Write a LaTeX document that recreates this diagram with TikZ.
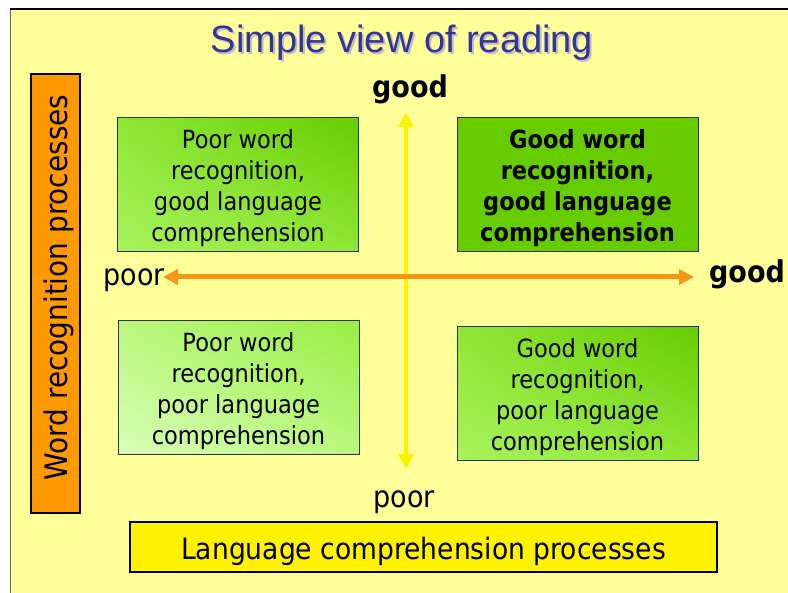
\documentclass[tikz,border=0pt]{standalone}
\usepackage{fontspec}
\setmainfont{DejaVu Sans}[FakeStretch=0.9]
\newfontfamily\titlefont{Liberation Sans}
\usetikzlibrary{arrows.meta,shadings}

\definecolor{slideyellow}{RGB}{255,255,153}
\definecolor{titleblue}{RGB}{51,51,153}
\definecolor{boxorange}{RGB}{255,153,0}
\definecolor{arroworange}{RGB}{245,150,20}
\definecolor{darkgreen}{RGB}{102,204,0}
\definecolor{midgreen}{RGB}{153,238,68}
\definecolor{lightgreen}{RGB}{168,242,92}
\definecolor{palegreen}{RGB}{218,255,184}

\tikzset{
    quad/.style = {draw=black!80, line width=1pt, minimum width=241, minimum height=134,
        inner sep=0pt, align=center, font=\fontsize{25}{31}\selectfont},
    quadtext/.style = {align=center, inner sep=0pt, font=\fontsize{25}{31}\selectfont},
    axislabel/.style = {font=\fontsize{30}{32}\selectfont},
    procbox/.style = {draw=black, line width=2.5pt, inner sep=0pt}
}

\begin{document}
\begin{tikzpicture}[x=1pt, y=-1pt]
    \useasboundingbox (0,0) rectangle (788,593);
    % Slide background
    \fill[slideyellow] (10,9) rectangle (788,593);
    \draw[black!60, line width=1pt] (10,9) -- (10,593);
    \draw[black, line width=2pt] (10,9) -- (788,9);

    % Title with shadow
    \node[text=black!25, font=\titlefont\fontsize{38}{40}\selectfont] at (404,45) {Simple view of reading};
    \node (title) [text=titleblue, font=\titlefont\fontsize{38}{40}\selectfont] at (402,43) {Simple view of reading};

    % Axis ends
    \coordinate (vtop) at (406,112);
    \coordinate (vbot) at (406,469);
    \coordinate (hleft) at (163,277);
    \coordinate (hright) at (694,277);

    % Draw the two axes
    \draw[yellow, line width=4pt, {Triangle[width=15pt,length=15pt]}-{Triangle[width=15pt,length=15pt]}] (vtop) -- (vbot);
    \draw[arroworange, line width=5pt, {Triangle[width=15pt,length=15pt]}-{Triangle[width=15pt,length=15pt]}] (hleft) -- (hright);

    % Axis labels
    \node (goodtop) [axislabel, font=\fontsize{30}{32}\selectfont\bfseries] at (410,89) {good};
    \node (poorbottom) [axislabel] at (404,502) {poor};
    \node (poorleft) [axislabel] at (134,280) {poor};
    \node (goodright) [axislabel, font=\fontsize{30}{32}\selectfont\bfseries] at (747,274) {good};

    % The four quadrants
    \node (pg) [quad, shade, lower left=lightgreen, upper right=darkgreen,
        upper left=midgreen!80!darkgreen, lower right=midgreen!80!darkgreen] at (238,185) {};
    \node[quadtext] at ([yshift=-3]pg.center) {Poor word\\recognition,\\good language\\comprehension};
    \node (gg) [quad, fill=darkgreen] at (577.5,185) {};
    \node[quadtext, font=\fontsize{25}{31}\selectfont\bfseries] at ([yshift=-3]gg.center)
        {Good word\\recognition,\\good language\\comprehension};
    \node (pp) [quad, shade, lower left=palegreen, upper right=midgreen,
        upper left=palegreen!50!midgreen, lower right=palegreen!50!midgreen] at (238.5,388) {};
    \node[quadtext] at ([yshift=-3]pp.center) {Poor word\\recognition,\\poor language\\comprehension};
    \node (gp) [quad, shade, lower left=lightgreen, upper right=darkgreen,
        upper left=midgreen!80!darkgreen, lower right=midgreen!80!darkgreen] at (577.5,394) {};
    \node[quadtext] at ([yshift=-3]gp.center) {Good word\\recognition,\\poor language\\comprehension};

    % Process boxes
    \node (wordproc) [procbox, fill=boxorange, minimum width=49, minimum height=439] at (55.5,293.5) {};
    \node[rotate=90, font=\fontsize{31}{33}\selectfont] at ([xshift=3,yshift=6]wordproc.center)
        {Word recognition processes};
    \node (langproc) [procbox, fill=yellow, minimum width=587, minimum height=50] at (423.5,547) {};
    \node[font=\fontsize{29.5}{32}\selectfont] at ([yshift=-4]langproc.center)
        {Language comprehension processes};
\end{tikzpicture}
\end{document}
